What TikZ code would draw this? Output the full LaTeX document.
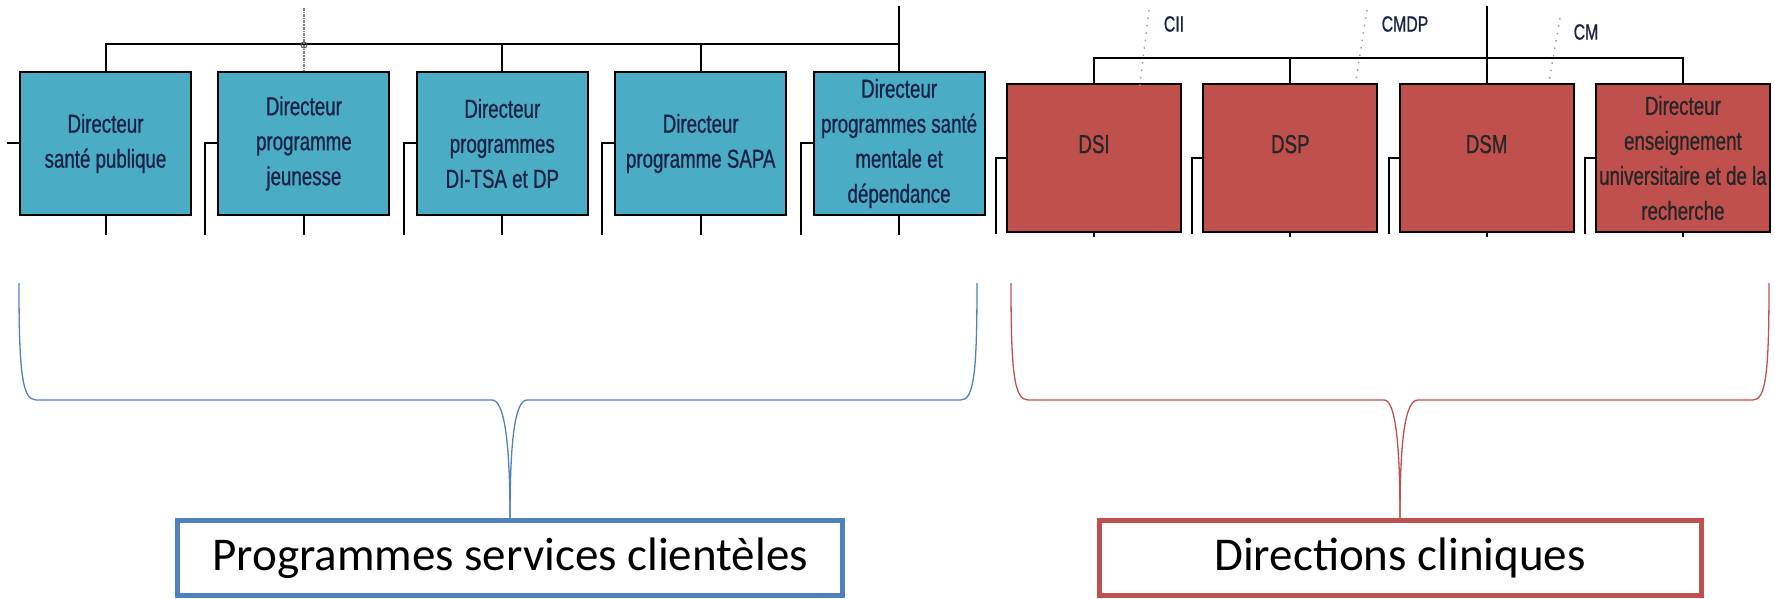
\documentclass[tikz,border=0pt]{standalone}
\usepackage{fontspec}
\newfontfamily\orgfont[FakeStretch=0.72, FakeBold=0.8]{Liberation Sans}
\newfontfamily\groupfont{Carlito}
\usetikzlibrary{positioning}
\definecolor{progblue}{RGB}{75,172,198}
\definecolor{dirred}{RGB}{192,80,77}
\definecolor{braceblue}{RGB}{79,129,189}
\definecolor{navytext}{RGB}{25,35,70}
\tikzset{
  progbox/.style={rectangle, draw=black, line width=2pt, fill=progblue, minimum width=171pt, minimum height=143pt, inner sep=0pt, align=center, text=navytext, font=\orgfont\fontsize{26}{35}\selectfont},
  dirbox/.style={progbox, fill=dirred, minimum width=174pt, minimum height=148pt, text=black!85},
  orgline/.style={draw=black, line width=2pt},
  advline/.style={draw=gray!80, line width=1.4pt, dash pattern=on 1.5pt off 6pt},
  advlabel/.style={inner sep=0pt, text=navytext, font=\orgfont\fontsize{22}{26}\selectfont},
  groupbox/.style={rectangle, draw, line width=5pt, fill=white, minimum height=75pt, inner sep=0pt, font=\groupfont\fontsize{47}{56}\selectfont},
}

\begin{document}
\begin{tikzpicture}[x=1pt, y=-1pt]
  \useasboundingbox (0,0) rectangle (1775,599);

  % Programme boxes
  \node[progbox] (b1) at (105.5,143.5) {Directeur\\santé publique};
  \node[progbox, right=25.4pt of b1] (b2) {Directeur\\programme\\jeunesse};
  \node[progbox, right=25.4pt of b2] (b3) {Directeur\\programmes\\DI-TSA et DP};
  \node[progbox, right=25.4pt of b3] (b4) {Directeur\\programme SAPA};
  \node[progbox, right=25.4pt of b4] (b5) {Directeur\\programmes santé\\mentale et\\dépendance};

  % Direction boxes
  \node[dirbox] (r1) at (1094,158) {\raisebox{28pt}{DSI}};
  \node[dirbox, right=20.3pt of r1] (r2) {\raisebox{28pt}{DSP}};
  \node[dirbox, right=20.3pt of r2] (r3) {\raisebox{28pt}{DSM}};
  \node[dirbox, right=20.3pt of r3] (r4) {Directeur\\enseignement\\universitaire et de la\\recherche};

  % Group boxes
  \node[groupbox, draw=braceblue, minimum width=665pt] (lblA) at (510,558) {Programmes services clientèles};
  \node[groupbox, draw=dirred, minimum width=602pt] (lblB) at (1400,558) {Directions cliniques};

  % Hierarchy lines
  \coordinate (topA) at (b5.north |- 0,6);
  \coordinate (topB) at (r3.north |- 0,6);
  \draw[orgline] (topA) -- (b5.north);
  \draw[orgline] (b1.north) -- ++(0,-27) -| (b5.north);
  \draw[orgline] (b3.north) -- ++(0,-27);
  \draw[orgline] (b4.north) -- ++(0,-27);
  \draw[orgline] (topB) -- (r3.north);
  \draw[orgline] (r1.north) -- ++(0,-25) -| (r4.north);
  \draw[orgline] (r2.north) -- ++(0,-25);

  % Side stubs and cut-off lines
  \draw[orgline] (b1.west) -- ++(-12,0);
  \draw[orgline] (b2.west) -- ++(-12,0) -- ++(0,91);
  \draw[orgline] (b3.west) -- ++(-12,0) -- ++(0,91);
  \draw[orgline] (b4.west) -- ++(-12,0) -- ++(0,91);
  \draw[orgline] (b5.west) -- ++(-12,0) -- ++(0,91);
  \draw[orgline] (r1.west) -- ++(-10,0) -- ++(0,76);
  \draw[orgline] (r2.west) -- ++(-10,0) -- ++(0,76);
  \draw[orgline] (r3.west) -- ++(-10,0) -- ++(0,76);
  \draw[orgline] (r4.west) -- ++(-10,0) -- ++(0,76);
  \draw[orgline] (b1.south) -- ++(0,19);
  \draw[orgline] (b2.south) -- ++(0,19);
  \draw[orgline] (b3.south) -- ++(0,19);
  \draw[orgline] (b4.south) -- ++(0,19);
  \draw[orgline] (b5.south) -- ++(0,19);
  \draw[orgline] (r1.south) -- ++(0,4);
  \draw[orgline] (r2.south) -- ++(0,4);
  \draw[orgline] (r3.south) -- ++(0,4);
  \draw[orgline] (r4.south) -- ++(0,4);

  % Advisory links
  \coordinate (advA) at (b2.north |- 0,8);
  \draw[draw=gray, line width=1.2pt, densely dashdotted] (advA) -- (b2.north);
  \draw[gray!70!black, line width=1pt] (b2.north |- 0,45) circle (3);
  \node[advlabel] (cii) at (1174,24) {CII};
  \node[advlabel] (cmdp) at (1405,24) {CMDP};
  \node[advlabel] (cm) at (1586,32) {CM};
  \coordinate (ciiT) at (1149,10);
  \coordinate (ciiB) at (1139,92);
  \coordinate (cmdpT) at (1367,10);
  \coordinate (cmdpB) at (1356,80);
  \coordinate (cmT) at (1560,18);
  \coordinate (cmB) at (1549,82);
  \draw[advline] (ciiT) -- (ciiB);
  \draw[advline] (cmdpT) -- (cmdpB);
  \draw[advline] (cmT) -- (cmB);

  % Braces
  \coordinate (brAl) at (19,283);
  \coordinate (brAr) at (977,283);
  \coordinate (brBl) at (1011,283);
  \coordinate (brBr) at (1769,283);
  \draw[braceblue, line width=1.3pt] (brAl) .. controls (19,372) and (22,400) .. (36,400) -- (492,400) .. controls (504,400) and (510,440) .. (lblA.north);
  \draw[braceblue, line width=1.3pt] (brAr) .. controls (977,372) and (974,400) .. (961,400) -- (527,400) .. controls (515,400) and (510,440) .. (lblA.north);
  \draw[dirred, line width=1.3pt] (brBl) .. controls (1011,372) and (1014,400) .. (1028,400) -- (1384,400) .. controls (1395,400) and (1400,440) .. (lblB.north);
  \draw[dirred, line width=1.3pt] (brBr) .. controls (1769,372) and (1766,400) .. (1753,400) -- (1418,400) .. controls (1405,400) and (1400,440) .. (lblB.north);

\end{tikzpicture}
\end{document}
